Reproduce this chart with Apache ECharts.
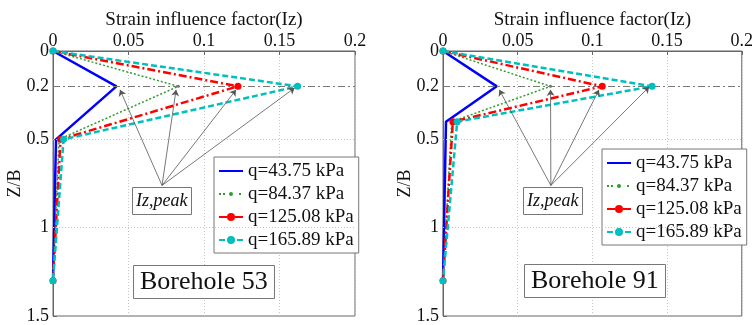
<!DOCTYPE html>
<html><head><meta charset="utf-8">
<script src="https://cdn.jsdelivr.net/npm/echarts@6/dist/echarts.min.js"></script>
<style>html,body{margin:0;padding:0;background:#fff}#c{width:756px;height:325px}</style>
</head><body><div id="c"></div>
<script>
// ---- data ----
const seriesNames = ['q=43.75 kPa', 'q=84.37 kPa', 'q=125.08 kPa', 'q=165.89 kPa'];
const depth53 = [0, 0.2, 0.5, 1.3];
const bh53_q1 = [0, 0.042, 0.002, 0];
const bh53_q2 = [0, 0.083, 0.004, 0];
const bh53_q3 = [0, 0.1225, 0.005, 0];
const bh53_q4 = [0, 0.162, 0.007, 0];
const depth91 = [0, 0.2, 0.4, 1.3];
const bh91_q1 = [0, 0.036, 0.002, 0];
const bh91_q2 = [0, 0.072, 0.0058, 0];
const bh91_q3 = [0, 0.1066, 0.0066, 0];
const bh91_q4 = [0, 0.140, 0.0095, 0];
const yTickValues = [0, 0.2, 0.5, 1, 1.5];
const yGridDotted = [0.5, 1];
const yGridDashDot = [0.2];
const boreholeLabels = ['Borehole 53', 'Borehole 91'];
// annotation arrows: origin (Iz,peak box) and tips (x, z)
const arrowOrigin53 = [0.0722, 0.761];
const arrowTips53 = [[0.0444, 0.22], [0.0815, 0.22], [0.1212, 0.22], [0.160, 0.209]];
const arrowOrigin91 = [0.0722, 0.761];
const arrowTips91 = [[0.0377, 0.22], [0.072, 0.22], [0.1044, 0.22], [0.138, 0.203]];

// ---- styles ----
const FONT = 'Liberation Serif';
const styles = [
  {color: '#0000ff', lineStyle: {width: 2.5, type: 'solid'}, symbol: 'none', symbolSize: 0},
  {color: '#2e9e2e', lineStyle: {width: 1.5, type: [2, 2]}, symbol: 'circle', symbolSize: 3},
  {color: '#ff0000', lineStyle: {width: 2.5, type: [8, 3, 2, 3]}, symbol: 'circle', symbolSize: 7},
  {color: '#00bfbf', lineStyle: {width: 2.5, type: [6, 3]}, symbol: 'circle', symbolSize: 7}
];

const chart = echarts.init(document.getElementById('c'), null, {renderer: 'canvas'});
const grids = [
  {left: 53, top: 51, width: 302, height: 266},
  {left: 443, top: 51, width: 302, height: 266}
];
function xAx(i) {
  return {
    gridIndex: i, type: 'value', position: 'top', min: 0, max: 0.2, interval: 0.05,
    name: 'Strain influence factor(Iz)', nameLocation: 'middle', nameGap: 21, nameMoveOverlap: false,
    nameTextStyle: {fontFamily: FONT, fontSize: 19, color: '#111'},
    axisLine: {lineStyle: {color: '#666'}},
    axisTick: {inside: true, length: 4, lineStyle: {color: '#666'}},
    axisLabel: {fontFamily: FONT, fontSize: 18, color: '#111', margin: 1,
      formatter: v => String(+v.toFixed(2))},
    splitLine: {show: true, lineStyle: {color: '#c4c4c4', type: [1, 2], width: 1}}
  };
}
function yAx(i) {
  return {
    gridIndex: i, type: 'value', inverse: true, min: 0, max: 1.5,
    name: 'Z/B', nameLocation: 'middle', nameGap: 29, nameRotate: 90, nameMoveOverlap: false,
    nameTextStyle: {fontFamily: FONT, fontSize: 18, color: '#111'},
    axisLine: {show: true, lineStyle: {color: '#666'}},
    axisTick: {show: true, inside: true, length: 4, customValues: yTickValues, lineStyle: {color: '#666'}},
    axisLabel: {fontFamily: FONT, fontSize: 18, color: '#111', margin: 4, customValues: yTickValues,
      formatter: v => String(+(+v).toFixed(2))},
    splitLine: {show: false}
  };
}
const sets = [
  {depth: depth53, vals: [bh53_q1, bh53_q2, bh53_q3, bh53_q4], origin: arrowOrigin53, tips: arrowTips53},
  {depth: depth91, vals: [bh91_q1, bh91_q2, bh91_q3, bh91_q4], origin: arrowOrigin91, tips: arrowTips91}
];
const series = [];
sets.forEach((s, g) => {
  s.vals.forEach((arr, k) => {
    const st = styles[k];
    const ser = {
      type: 'line', name: seriesNames[k], xAxisIndex: g, yAxisIndex: g,
      data: arr.map((v, j) => [v, s.depth[j]]),
      color: st.color, symbol: st.symbol, symbolSize: st.symbolSize, showSymbol: st.symbol !== 'none',
      lineStyle: Object.assign({color: st.color}, st.lineStyle),
      itemStyle: {color: st.color}, z: 3 + k, animation: false, clip: false
    };
    if (k === 0) {
      ser.markLine = {
        silent: true, symbol: 'none', label: {show: false}, animation: false,
        data: yGridDotted.map(y => ({yAxis: y, lineStyle: {color: '#c4c4c4', type: [1, 2], width: 1}}))
          .concat(yGridDashDot.map(y => ({yAxis: y, lineStyle: {color: '#777', type: [7, 3, 2, 3], width: 1}})))
      };
    }
    series.push(ser);
  });
  series.push({
    type: 'lines', coordinateSystem: 'cartesian2d', xAxisIndex: g, yAxisIndex: g,
    symbol: ['none', 'arrow'], symbolSize: [0, 6], silent: true, animation: false, z: 10,
    lineStyle: {color: '#555', width: 0.8, opacity: 1},
    data: s.tips.map(t => ({coords: [s.origin, t]}))
  });
});

const boxText = (text, left, top, size, italic, pad) => ({
  text, left, top, padding: pad, borderColor: '#777', borderWidth: 1, backgroundColor: '#fff',
  textStyle: {fontFamily: FONT, fontSize: size, fontWeight: 'normal', fontStyle: italic ? 'italic' : 'normal',
    color: '#111', lineHeight: size + 2}
});
const legendData = seriesNames.map((n, k) => k === 0 ? {name: n, itemStyle: {opacity: 0}} :
  (k === 1 ? {name: n, itemStyle: {borderWidth: 4, borderColor: '#fff'}} : {name: n}));
const legendBase = (left, top) => ({
  data: legendData, orient: 'vertical', left, top, padding: [4, 5, 3, 4],
  itemWidth: 24, itemHeight: 10, itemGap: 3, selectedMode: false,
  borderColor: '#777', borderWidth: 1, backgroundColor: '#fff',
  textStyle: {fontFamily: FONT, fontSize: 19, color: '#111', lineHeight: 20}
});

chart.setOption({
  animation: false,
  backgroundColor: '#fff',
  grid: grids.map(g => Object.assign({show: true, borderColor: '#666', borderWidth: 1, backgroundColor: 'transparent'}, g)),
  xAxis: [xAx(0), xAx(1)],
  yAxis: [yAx(0), yAx(1)],
  legend: [legendBase(214, 157), legendBase(602, 149)],
  title: [
    boxText('Iz,peak', 132, 187, 18, true, [4, 4, 4, 4]),
    boxText('Iz,peak', 523, 187, 18, true, [4, 4, 4, 4]),
    boxText(boreholeLabels[0], 133, 265, 26, false, [3, 7, 3, 7]),
    boxText(boreholeLabels[1], 524, 264, 26, false, [3, 7, 3, 7])
  ],
  series
});
</script></body></html>
